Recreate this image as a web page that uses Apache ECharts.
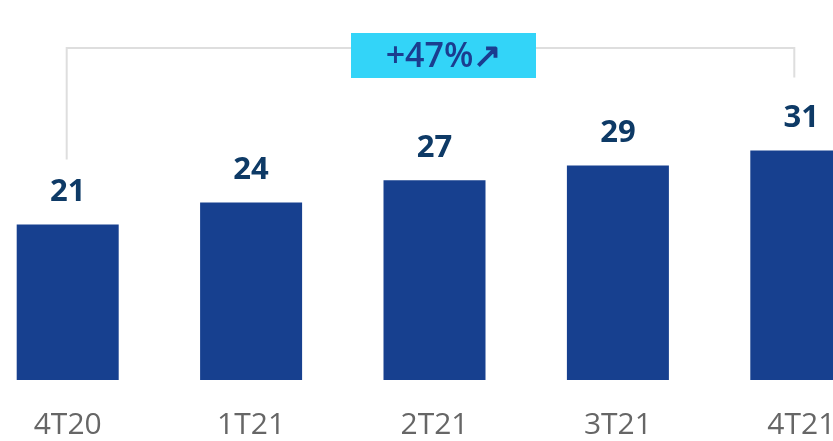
<!DOCTYPE html>
<html>
<head>
<meta charset="utf-8">
<script src="https://cdn.jsdelivr.net/npm/echarts@6/dist/echarts.min.js"></script>
<style>
  html, body { margin: 0; padding: 0; background: #fff; overflow: hidden; width: 833px; height: 441px; }
  /* 图表比窗口宽，首尾柱子被裁切 */
  #chart { width: 917px; height: 441px; margin-left: -24px; }
</style>
</head>
<body>
<div id="chart"></div>
<script>
// 季度数据
const quarters = ['4T20', '1T21', '2T21', '3T21', '4T21'];
const values = [21, 24, 27, 29, 31];
const growthLabel = '+47%↗';

const barColor = '#17408f';
const labelColor = '#0e3a66';

const chart = echarts.init(document.getElementById('chart'));
const option = {
  animation: false,
  grid: {
    left: 0,
    right: 0,
    top: 84,
    bottom: 61
  },
  xAxis: {
    type: 'category',
    data: quarters,
    axisLine: { show: false },
    axisTick: { show: false },
    axisLabel: {
      margin: 30,
      fontSize: 30,
      color: '#666666',
      fontFamily: 'Open Sans'
    }
  },
  yAxis: {
    type: 'value',
    min: 0,
    max: 40,
    show: false,
    splitLine: { show: false }
  },
  series: [
    {
      type: 'bar',
      data: values,
      barWidth: 102,
      itemStyle: { color: barColor },
      label: {
        show: true,
        position: 'top',
        distance: 17,
        fontSize: 31,
        fontWeight: 'bold',
        color: labelColor,
        fontFamily: 'Open Sans'
      }
    }
  ]
};
chart.setOption(option);

// 括号标注：用坐标系换算端点
const first = chart.convertToPixel({ seriesIndex: 0 }, [0, values[0]]);
const last = chart.convertToPixel({ seriesIndex: 0 }, [quarters.length - 1, values[values.length - 1]]);
const x0 = first[0] - 1;
const x1 = last[0] - 7;
const yTop = 48;
const midX = (x0 + x1) / 2 + 13;
const lineStyle = { stroke: '#dedede', lineWidth: 2 };

chart.setOption({
  graphic: [
    {
      type: 'polyline',
      shape: { points: [[x0, first[1] - 65], [x0, yTop], [x1, yTop], [x1, last[1] - 73]] },
      style: Object.assign({ fill: null }, lineStyle),
      z: 1
    },
    {
      type: 'rect',
      shape: { x: midX - 92.5, y: 33, width: 185, height: 45 },
      style: { fill: '#33d4f8' },
      z: 2
    },
    {
      type: 'text',
      x: midX,
      y: 57,
      style: {
        text: growthLabel,
        align: 'center',
        verticalAlign: 'middle',
        fontSize: 34,
        fontWeight: 600,
        fill: '#1b3d8f',
        fontFamily: 'Open Sans'
      },
      z: 3
    }
  ]
});
</script>
</body>
</html>
